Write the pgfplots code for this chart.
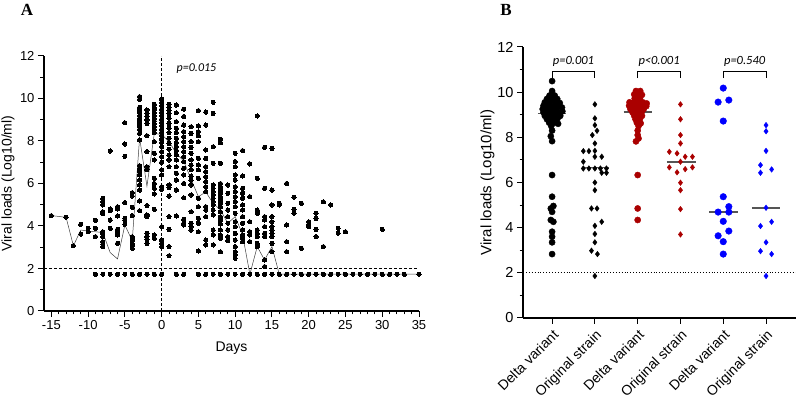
\documentclass[border=0pt]{standalone}
\usepackage{pgfplots}
\pgfplotsset{compat=1.18}
\usepackage{fontspec}
\setmainfont{Liberation Sans}
\newfontfamily\serifbf{Liberation Serif}
\newfontfamily\carlito{Carlito}
\definecolor{dred}{RGB}{170,0,0}
\definecolor{dblue}{RGB}{0,0,255}
\definecolor{medgray}{RGB}{85,85,85}
\begin{document}
\begin{tikzpicture}
\useasboundingbox (0,0) rectangle (796pt,401pt);
\node[font=\serifbf\bfseries\fontsize{17}{20}\selectfont] at (27pt,391pt) {A};
\node[font=\serifbf\bfseries\fontsize{17}{20}\selectfont] at (506pt,391pt) {B};
% ---------------- Panel A ----------------
\begin{axis}[
  at={(44pt,90pt)}, anchor=south west, scale only axis,
  width=375pt, height=255pt,
  xmin=-16, xmax=35, ymin=0, ymax=12,
  axis x line*=bottom, axis y line*=left,
  axis line style={-, line width=1.3pt},
  xtick={-15,-10,...,35}, ytick={0,2,...,12},
  minor x tick num=4, minor y tick num=1,
  tick align=outside, major tick length=6pt, minor tick length=3.5pt,
  every tick/.style={black, line width=1pt},
  /pgf/number format/assume math mode=true,
  tick label style={font=\fontsize{13}{15}\selectfont},
  xlabel={Days}, ylabel={Viral loads (Log10/ml)},
  every axis x label/.style={at={(axis description cs:0.5,-0.145)}, anchor=center, font=\fontsize{14}{16}\selectfont},
  every axis y label/.style={at={(axis description cs:-0.096,0.5)}, rotate=90, anchor=center, font=\fontsize{14}{16}\selectfont},
  clip=false,
]
\draw[black, line width=1pt, dash pattern=on 3pt off 2pt] (axis cs:-16,2) -- (axis cs:35,2);
\draw[black, line width=1pt, dash pattern=on 3pt off 2pt] (axis cs:0,0) -- (axis cs:0,12);
\addplot[only marks, mark=*, mark size=2.1pt, black, mark options={line width=0pt}] coordinates {
(-15,4.49) (-13,4.41) (-12,3.07)
(-11,4.08) (-11,3.62)
(-10,3.89) (-10,3.73)
(-9,4.27) (-9,3.89) (-9,3.5) (-9,1.73)
(-8,5.3) (-8,5.15) (-8,4.99) (-8,4.67) (-8,4.59) (-8,3.73) (-8,3.65) (-8,3.5) (-8,3.26) (-8,3.14) (-8,3.03) (-8,1.73)
(-7,7.53) (-7,4.8) (-7,4.72) (-7,4.28) (-7,3.89) (-7,1.73)
(-6,4.91) (-6,4.8) (-6,4.47) (-6,3.84) (-6,3.73) (-6,3.58) (-6,3.18) (-6,1.73)
(-5,8.86) (-5,7.86) (-5,7.28) (-5,5.1) (-5,4.36) (-5,4.28) (-5,4.08) (-5,1.73)
(-4,5.57) (-4,5.41) (-4,4.88) (-4,4.49) (-4,3.5) (-4,3.42) (-4,3.3) (-4,3.18) (-4,3.07) (-4,2.95) (-4,1.73)
(-3,10.09) (-3,9.96) (-3,9.58) (-3,9.46) (-3,9.33) (-3,9.19) (-3,9.07) (-3,8.94) (-3,8.8) (-3,8.67) (-3,8.55) (-3,8.36) (-3,8.05) (-3,6.84) (-3,6.68) (-3,6.56) (-3,6.4) (-3,6.16) (-3,5.93) (-3,5.69) (-3,5.18) (-3,4.72) (-3,1.73)
(-2,9.46) (-2,9.3) (-2,9.15) (-2,8.99) (-2,8.83) (-2,8.25) (-2,7.5) (-2,6.79) (-2,6.64) (-2,4.96) (-2,4.52) (-2,4.44) (-2,3.65) (-2,3.5) (-2,3.37) (-2,3.18) (-2,1.73)
(-1,9.73) (-1,9.58) (-1,9.46) (-1,9.33) (-1,9.19) (-1,9.07) (-1,8.94) (-1,8.8) (-1,8.67) (-1,8.55) (-1,8.39) (-1,7.97) (-1,7.42) (-1,7.11) (-1,6.24) (-1,6.0) (-1,5.77) (-1,5.51) (-1,4.78) (-1,3.58) (-1,3.42) (-1,1.73)
(0,9.98) (0,9.82) (0,9.66) (0,9.5) (0,9.35) (0,9.19) (0,9.03) (0,8.88) (0,8.72) (0,8.56) (0,8.41) (0,8.25) (0,8.09) (0,7.94) (0,7.73) (0,7.5) (0,7.26) (0,7.0) (0,6.64) (0,6.4) (0,5.85) (0,5.73) (0,3.97) (0,3.34) (0,3.18) (0,3.03) (0,1.73)
(1,9.73) (1,9.58) (1,9.43) (1,9.3) (1,9.07) (1,8.83) (1,8.6) (1,8.39) (1,8.13) (1,7.89) (1,7.61) (1,7.34) (1,7.11) (1,6.79) (1,5.93) (1,5.8) (1,5.41) (1,4.44) (1,3.84) (1,3.03) (1,2.6)
(2,9.69) (2,9.33) (2,8.91) (2,8.6) (2,8.39) (2,8.13) (2,7.92) (2,7.73) (2,7.55) (2,7.34) (2,7.11) (2,6.79) (2,6.48) (2,6.16) (2,5.69) (2,4.47) (2,1.73)
(3,9.5) (3,9.15) (3,8.75) (3,8.44) (3,8.2) (3,7.97) (3,7.73) (3,7.5) (3,7.26) (3,7.03) (3,6.72) (3,6.4) (3,6.0) (3,5.33) (3,4.31) (3,4.13) (3,4.05) (3,1.73)
(4,8.67) (4,8.36) (4,7.97) (4,7.7) (4,7.42) (4,7.11) (4,6.87) (4,6.64) (4,6.35) (4,6.16) (4,5.93) (4,5.46) (4,4.67) (4,4.13) (4,3.97) (4,3.81)
(5,9.43) (5,8.71) (5,8.44) (5,8.24) (5,7.97) (5,7.18) (5,6.87) (5,6.64) (5,6.24) (5,5.3) (5,4.91) (5,4.36) (5,4.13) (5,3.73) (5,2.82) (5,1.73)
(6,9.36) (6,8.75) (6,7.58) (6,7.18) (6,6.79) (6,6.56) (6,6.32) (6,6.09) (6,5.85) (6,5.62) (6,4.91) (6,4.75) (6,4.44) (6,3.34) (6,3.11) (6,1.73)
(7,9.82) (7,9.3) (7,7.73) (7,6.95) (7,5.93) (7,5.77) (7,5.62) (7,5.46) (7,5.3) (7,5.15) (7,4.99) (7,4.75) (7,4.52) (7,3.81) (7,3.58) (7,3.11) (7,1.73)
(8,8.08) (8,7.92) (8,6.95) (8,6.0) (8,5.85) (8,5.69) (8,5.54) (8,5.38) (8,5.22) (8,5.07) (8,4.91) (8,4.67) (8,4.44) (8,4.28) (8,4.09) (8,3.81) (8,3.58) (8,3.42) (8,2.79) (8,1.73)
(9,5.93) (9,5.54) (9,5.07) (9,4.75) (9,4.44) (9,4.13) (9,3.81) (9,3.5) (9,3.31) (9,1.73)
(10,7.42) (10,7.03) (10,6.79) (10,6.4) (10,6.16) (10,5.85) (10,5.62) (10,5.38) (10,5.15) (10,4.91) (10,4.6) (10,4.2) (10,3.97) (10,3.65) (10,3.34) (10,3.03) (10,2.79) (10,2.64) (10,2.48) (10,1.73)
(11,7.55) (11,6.35) (11,5.77) (11,5.54) (11,5.3) (11,4.99) (11,4.75) (11,4.44) (11,4.13) (11,3.81) (11,3.58) (11,3.42) (11,3.26) (11,1.73)
(12,6.92) (12,5.38) (12,4.2) (12,3.73) (12,3.58) (12,3.26) (12,1.73)
(13,9.18) (13,6.24) (13,4.75) (13,4.67) (13,4.6) (13,3.81) (13,3.65) (13,3.5) (13,3.18) (13,3.11) (13,3.03) (13,1.73)
(14,7.7) (14,5.77) (14,4.44) (14,4.28) (14,3.97) (14,3.65) (14,3.5) (14,2.4) (14,2.09) (14,1.73)
(15,7.65) (15,5.69) (15,4.99) (15,4.44) (15,4.2) (15,3.97) (15,3.81) (15,3.65) (15,3.5) (15,3.18) (15,2.79) (15,1.73)
(16,5.07) (16,4.99) (16,1.73)
(17,6.0) (17,4.05) (17,3.26) (17,2.79) (17,1.73)
(18,5.35) (18,4.78) (18,4.6) (18,1.73)
(19,5.07) (19,2.95) (19,1.73)
(20,4.2) (20,4.08) (20,3.97) (20,1.73)
(21,4.6) (21,4.36) (21,3.84) (21,3.5) (21,1.73)
(22,5.14) (22,3.03) (22,1.73)
(23,4.99) (23,1.73)
(24,3.89) (24,3.66) (24,1.73)
(25,3.73) (25,1.73)
(26,1.73) (27,1.73) (28,1.73) (29,1.73)
(30,3.84) (30,1.73)
(31,1.73) (32,1.73) (33,1.73) (35,1.73)
};
\addplot[no marks, black!75, line width=0.5pt] coordinates {
(-15,4.49) (-13,4.41) (-12,3.07) (-11,3.81) (-10,3.76) (-9,3.73) (-8,3.69) (-7,2.75) (-6,2.45) (-5,4.05) (-4,3.3) (-3,8.15) (-2,5.87) (-1,8.35) (0,8.31) (1,7.97) (2,7.42) (3,7.05) (4,6.2) (5,5.38) (6,5.6) (7,5.07) (8,4.75) (9,4.13) (10,4.44) (11,3.6) (12,1.73) (13,3.03) (14,2.4) (15,3.03) (16,1.73) (35,1.73)
};
\node[font=\carlito\itshape\fontsize{12}{14}\selectfont] at (axis cs:4.74,11.39) {p=0.015};
\end{axis}
% ---------------- Panel B ----------------
\begin{axis}[
  at={(523pt,83pt)}, anchor=south west, scale only axis,
  width=273pt, height=271pt,
  xmin=-0.68, xmax=5.7, ymin=0, ymax=12,
  axis x line*=bottom, axis y line*=left,
  axis line style={-, line width=1.4pt},
  xtick={0,1,2,3,4,5},
  xticklabels={Delta variant, Original strain, Delta variant, Original strain, Delta variant, Original strain},
  ytick={0,2,...,12}, minor y tick num=1,
  tick align=outside, major tick length=6pt, minor tick length=3.5pt,
  every tick/.style={black, line width=1pt},
  /pgf/number format/assume math mode=true,
  yticklabel style={font=\fontsize{14.5}{16}\selectfont},
  xticklabel style={rotate=45, anchor=north east, font=\fontsize{14}{16}\selectfont},
  ylabel={Viral loads (Log10/ml)},
  every axis y label/.style={at={(axis description cs:-0.13,0.5)}, rotate=90, anchor=center, font=\fontsize{15}{17}\selectfont},
  clip=false,
]
\draw[black, line width=0.9pt, dotted] (axis cs:-0.68,2) -- (axis cs:5.7,2);
% black delta
\addplot[only marks, mark=*, mark size=3.1pt, black] coordinates {
(0,10.49) (0,10.05) (-0.06,9.85) (0.06,9.85) (-0.12,9.7) (0,9.72) (0.12,9.7) (-0.17,9.55) (-0.05,9.55) (0.07,9.55) (0.18,9.52) (-0.2,9.4) (-0.08,9.4) (0.03,9.38) (0.15,9.4) (0.23,9.32) (-0.22,9.25) (-0.1,9.25) (0,9.22) (0.11,9.25) (-0.2,9.1) (-0.08,9.1) (0.03,9.1) (0.15,9.1) (0.24,9.15) (-0.17,8.95) (-0.05,8.95) (0.07,8.95) (0.19,8.95) (-0.12,8.8) (0,8.8) (0.12,8.8) (-0.07,8.65) (0.05,8.65) (0.14,8.6) (-0.02,8.5) (0,8.3) (-0.03,8.05) (0,7.83) (0,6.33) (0,5.37) (0.03,4.96) (-0.03,4.85) (0,4.70) (-0.03,4.34) (0.03,4.26) (0,3.82) (0,3.6) (0,3.35) (0,2.83)
};
% black original
\addplot[only marks, mark=diamond*, mark size=2.8pt, black] coordinates {
(1,9.46) (1,8.84) (1,8.54) (1.05,8.29) (0.94,8.1) (1,7.73) (0.73,7.39) (0.86,7.39) (1,7.4) (1,7.14) (1.16,7.14) (0.73,6.92) (0.73,6.62) (0.86,6.62) (1,6.62) (1.13,6.62) (1.27,6.62) (1.16,6.43) (1.27,6.43) (1,6.0) (1,5.66) (0.92,4.85) (1.05,4.85) (1.16,4.26) (1,4.08) (1,3.72) (1,3.35) (0.92,2.98) (1.06,2.83) (1,1.86)
};
% red delta
\addplot[only marks, mark=*, mark size=3.1pt, dred] coordinates {
(1.96,10.05) (2.06,10.05) (1.92,9.9) (2.02,9.9) (2.1,9.88) (1.93,9.72) (2.05,9.72) (1.81,9.55) (1.92,9.55) (2.02,9.55) (2.12,9.55) (2.21,9.5) (1.8,9.4) (1.9,9.4) (2,9.4) (2.1,9.4) (2.2,9.38) (1.83,9.25) (1.93,9.25) (2.03,9.25) (2.14,9.25) (1.88,9.1) (1.98,9.1) (2.09,9.1) (1.92,8.95) (2.02,8.95) (2.1,8.95) (1.95,8.8) (2.05,8.8) (1.98,8.65) (2.07,8.62) (2.02,8.5) (2,8.3) (2,8.1) (2.02,7.95) (1.96,7.82) (2,6.33) (2,4.85) (2,4.34)
};
% red original
\addplot[only marks, mark=diamond*, mark size=2.8pt, dred] coordinates {
(3,9.46) (3,8.8) (3,8.1) (3,7.73) (2.74,7.36) (2.92,7.29) (3.11,7.14) (3.28,7.14) (3,6.92) (2.74,6.67) (3.28,6.67) (3.11,6.59) (2.92,6.45) (3,5.99) (3,5.66) (3,4.82) (3,3.7)
};
% blue delta
\addplot[only marks, mark=*, mark size=3.3pt, dblue] coordinates {
(4,10.18) (4.13,9.65) (3.88,9.56) (4,8.72) (4,5.37) (4.13,4.93) (3.88,4.69) (4.13,4.69) (4,4.28) (4.13,3.85) (3.88,3.64) (4,3.38) (4,2.83)
};
% blue original
\addplot[only marks, mark=diamond*, mark size=2.8pt, dblue] coordinates {
(5,8.54) (5,8.27) (5,7.4) (4.87,6.77) (5.13,6.58) (4.87,6.43) (5,4.88) (5.13,4.26) (4.87,4.07) (5,3.35) (4.87,2.96) (5.13,2.83) (5,1.86)
};
% medians
\addplot[no marks, medgray, line width=1.6pt] coordinates {(-0.33,9.06) (0.33,9.06)};
\addplot[no marks, medgray, line width=1.6pt] coordinates {(0.7,6.66) (1.33,6.66)};
\addplot[no marks, medgray, line width=1.6pt] coordinates {(1.67,9.13) (2.33,9.13)};
\addplot[no marks, medgray, line width=1.6pt] coordinates {(2.68,6.92) (3.36,6.92)};
\addplot[no marks, medgray, line width=1.6pt] coordinates {(3.67,4.69) (4.34,4.69)};
\addplot[no marks, medgray, line width=1.6pt] coordinates {(4.67,4.88) (5.33,4.88)};
% brackets
\draw[black, line width=0.9pt] (axis cs:0,10.62) -- (axis cs:0,10.93) -- (axis cs:1,10.93) -- (axis cs:1,10.62);
\draw[black, line width=0.9pt] (axis cs:2,10.62) -- (axis cs:2,10.93) -- (axis cs:3,10.93) -- (axis cs:3,10.62);
\draw[black, line width=0.9pt] (axis cs:4,10.62) -- (axis cs:4,10.93) -- (axis cs:5,10.93) -- (axis cs:5,10.62);
\node[font=\carlito\itshape\fontsize{12.5}{14}\selectfont] at (axis cs:0.5,11.36) {p=0.001};
\node[font=\carlito\itshape\fontsize{12.5}{14}\selectfont] at (axis cs:2.5,11.36) {p<0.001};
\node[font=\carlito\itshape\fontsize{12.5}{14}\selectfont] at (axis cs:4.5,11.36) {p=0.540};
\end{axis}
\end{tikzpicture}
\end{document}
